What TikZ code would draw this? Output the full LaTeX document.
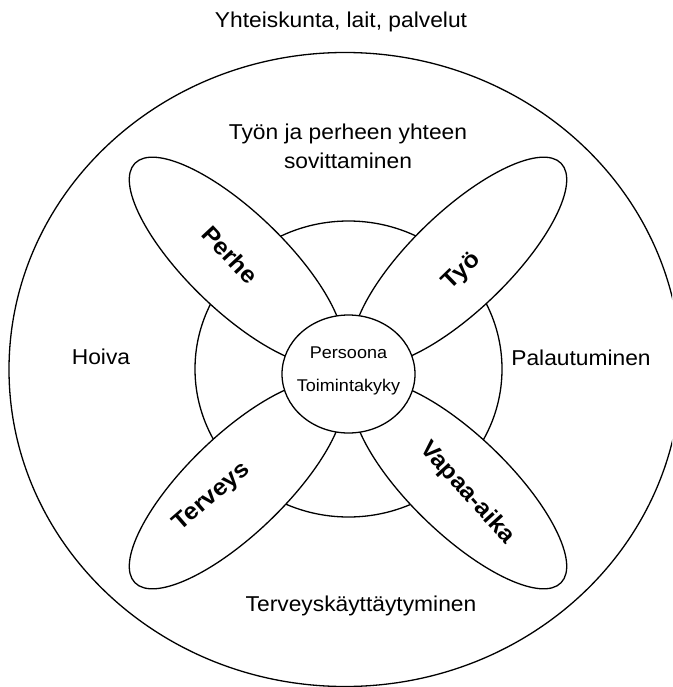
\documentclass[tikz,border=0pt]{standalone}
\usepackage{fontspec}
\setmainfont{Liberation Sans}[FakeStretch=1.06]
\usetikzlibrary{shapes.geometric}
\tikzset{
  ring/.style={draw, line width=1.3pt},
  petal/.style={ellipse, draw, fill=white, line width=1.3pt, inner sep=0pt,
    minimum width=282pt, minimum height=98pt},
  core/.style={ellipse, draw, fill=white, line width=1.3pt, inner sep=0pt,
    minimum width=133pt, minimum height=118pt},
  area/.style={font=\fontsize{21.5}{29}\selectfont, align=center, inner sep=0pt},
  leaf/.style={font=\fontsize{23.5}{26}\selectfont\bfseries, inner sep=0pt},
}
\begin{document}
\begin{tikzpicture}[x=1pt,y=-1pt,line join=round]
\useasboundingbox (0,0) rectangle (672,687);
\clip (0,0) rectangle (672,687);
\draw[ring] (345,369.5) ellipse [x radius=336, y radius=317];
\draw[ring] (348.5,369) ellipse [x radius=153.5, y radius=148];
\node[petal, rotate=-44] (perhe) at (236.3,261.3) {};
\node[petal, rotate=44] (tyo) at (459.7,261.3) {};
\node[petal, rotate=44] (terveys) at (236.3,484.7) {};
\node[petal, rotate=-44] (vapaa) at (459.7,484.7) {};
\node[core] (core) at (348.5,374) {};
\node[font=\fontsize{17}{33}\selectfont, align=center, inner sep=0pt] (persoona) at (348.5,371) {Persoona\\Toimintakyky};
\node[leaf, rotate=-47] (perhetxt) at (230,255) {Perhe};
\node[leaf, rotate=44] (tyotxt) at (462,272) {Työ};
\node[leaf, rotate=41] (terveystxt) at (212,497) {Terveys};
\node[leaf, rotate=-48] (vapaatxt) at (467,493) {Vapaa-aika};
\node[area] (yhteiskunta) at (341,22) {Yhteiskunta, lait, palvelut};
\node[area] (sovitus) at (348,146) {Työn ja perheen yhteen\\sovittaminen};
\node[area] (hoiva) at (101,357) {Hoiva};
\node[area] (palautuminen) at (581,358) {Palautuminen};
\node[area] (kaytos) at (361,606) {Terveyskäyttäytyminen};
\end{tikzpicture}
\end{document}
